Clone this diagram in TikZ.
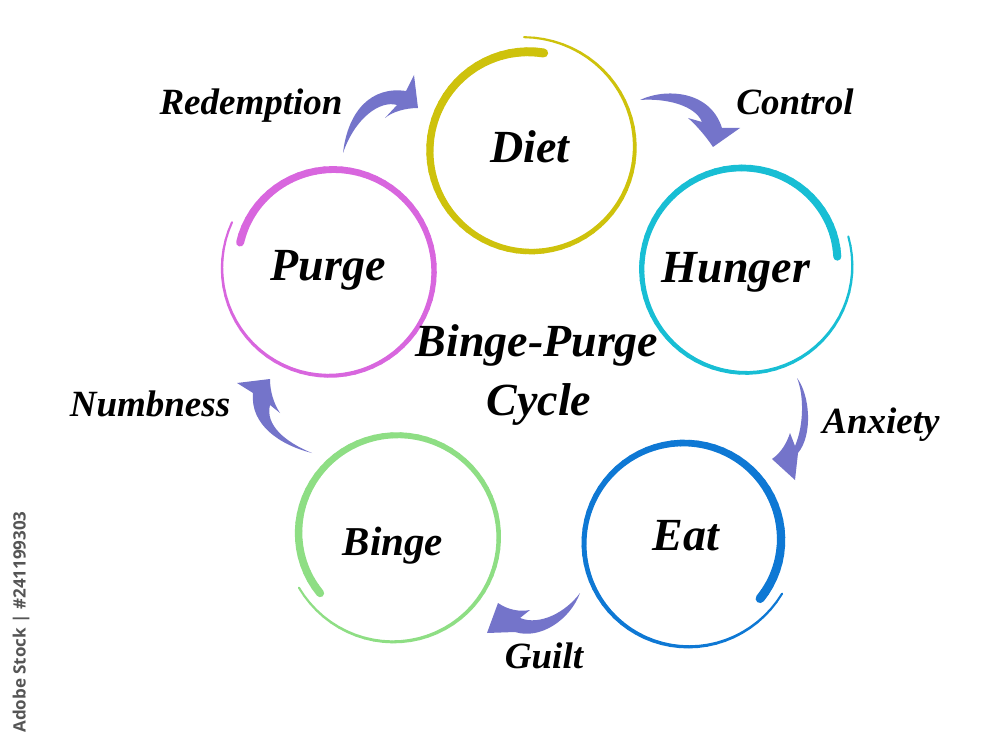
\documentclass[tikz,border=0pt]{standalone}
\usepackage{fontspec}
\setmainfont{Liberation Serif}
\newfontfamily\stockfont{Open Sans}
\usetikzlibrary{positioning}
\definecolor{dietcol}{RGB}{206,194,12}
\definecolor{hungercol}{RGB}{24,190,212}
\definecolor{eatcol}{RGB}{14,120,212}
\definecolor{bingecol}{RGB}{142,222,132}
\definecolor{purgecol}{RGB}{216,102,222}
\definecolor{arrowcol}{RGB}{116,116,202}
\definecolor{stockgray}{RGB}{85,85,85}

% brush ring: colour, cx, cy, start angle, sweep, radius, curl in, curl out, start width
\newcommand{\brushring}[9]{%
  \foreach \i in {0,...,73}{%
    \pgfmathsetmacro{\tA}{\i/74}%
    \pgfmathsetmacro{\tB}{(\i+1)/74}%
    \pgfmathsetmacro{\angA}{#4+(#5)*\tA}%
    \pgfmathsetmacro{\angB}{#4+(#5)*\tB}%
    \pgfmathsetmacro{\radA}{#6-#7*(1-\tA)^4+#8*\tA^4}%
    \pgfmathsetmacro{\radB}{#6-#7*(1-\tB)^4+#8*\tB^4}%
    \pgfmathsetmacro{\brw}{#9+(2-#9)*\tA}%
    \draw[#1,line width=\brw pt,line cap=round]
      ({#2+\radA*cos(\angA)},{#3-\radA*sin(\angA)}) --
      ({#2+\radB*cos(\angB)},{#3-\radB*sin(\angB)});
  }%
}

\tikzset{
  stage/.style={anchor=base,font=\bfseries\itshape\fontsize{46}{50}\selectfont},
  cue/.style={anchor=base,font=\bfseries\itshape\fontsize{37}{40}\selectfont},
  cuearrow/.style={fill=arrowcol}
}

\begin{document}
\begin{tikzpicture}[x=1pt,y=-1pt]
% page
\useasboundingbox (0,0) rectangle (1000,743);
\fill[white] (0,0) rectangle (1000,743);
% brush circles
\brushring{dietcol}{530}{150}{82}{371}{101}{3}{12}{9}
\brushring{hungercol}{745}{268}{7}{370}{104}{11}{4}{8}
\brushring{eatcol}{685}{542}{-37}{369}{100}{6}{10}{9}
\brushring{bingecol}{396}{536}{217}{-369}{102}{7}{8}{8}
\brushring{purgecol}{330}{270}{163}{-369}{105}{11}{4}{8}
% stage names
\node[stage] (diet) at (530,163) {Diet};
\node[stage] (hunger) at (736,282) {Hunger};
\node[stage] (eat) at (686,550) {Eat};
\node[stage,font=\bfseries\itshape\fontsize{41}{45}\selectfont] (binge) at (393,555) {Binge};
\node[stage] (purge) at (328,280) {Purge};
% centre title
\node[stage] (title) at (537,356) {Binge-Purge};
\node[stage] (cycle) at (539,415) {Cycle};
% curved arrows
\fill[cuearrow] (343,153) .. controls (348,110) and (372,86) .. (406,91) -- (414,75) -- (418,108)
  .. controls (405,108) and (392,112) .. (385,118) -- (397,105)
  .. controls (380,100) and (355,118) .. (343,153) -- cycle;
\fill[cuearrow] (640,100) .. controls (665,88) and (710,90) .. (722,128) -- (740,128) -- (713,147)
  .. controls (705,135) and (695,124) .. (688,118) -- (702,122)
  .. controls (695,105) and (665,98) .. (640,100) -- cycle;
\fill[cuearrow] (797,378) .. controls (810,395) and (813,435) .. (798,453) -- (795,480) -- (772,459)
  .. controls (782,452) and (787,442) .. (790,433) -- (795,446)
  .. controls (804,425) and (804,395) .. (797,378) -- cycle;
\fill[cuearrow] (580,593) .. controls (570,620) and (540,640) .. (515,632) -- (487,633) -- (498,603)
  .. controls (508,610) and (520,612) .. (530,610) -- (520,618)
  .. controls (540,626) and (566,612) .. (580,593) -- cycle;
\fill[cuearrow] (312,453) .. controls (280,445) and (250,425) .. (253,393) -- (237,383) -- (270,379)
  .. controls (270,392) and (274,404) .. (280,413) -- (270,405)
  .. controls (265,425) and (285,442) .. (312,453) -- cycle;
% arrow labels
\node[cue] (redemption) at (251,115) {Redemption};
\node[cue] (control) at (795,115) {Control};
\node[cue] (anxiety) at (881,433) {Anxiety};
\node[cue] (guilt) at (544,668) {Guilt};
\node[cue] (numbness) at (150,416) {Numbness};
% stock tag
\node[rotate=90,text=stockgray,font=\stockfont\bfseries\fontsize{17}{20}\selectfont] (stock) at (21,622) {Adobe Stock | \#241199303};
\end{tikzpicture}
\end{document}
